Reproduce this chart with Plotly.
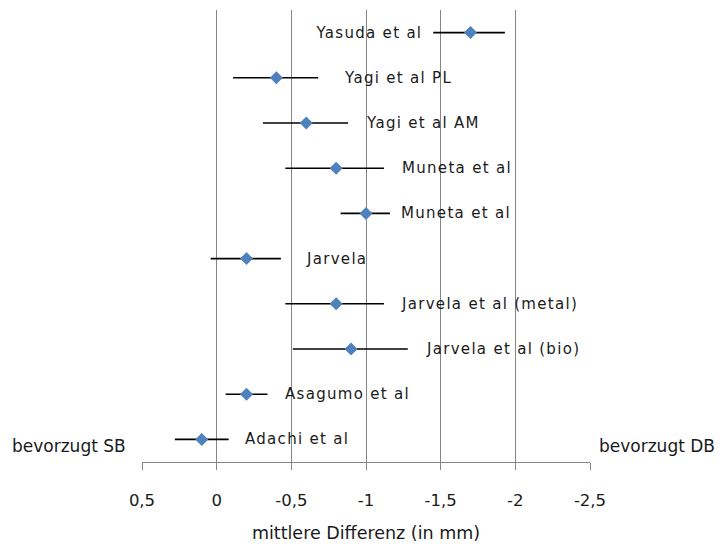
import json
import plotly.graph_objects as go

studies = ["Yasuda et al", "Yagi et al PL", "Yagi et al AM", "Muneta et al", "Muneta et al",
           "Jarvela", "Jarvela et al (metal)", "Jarvela et al (bio)", "Asagumo et al", "Adachi et al"]
mean_diff = [-1.7, -0.4, -0.6, -0.8, -1.0, -0.2, -0.8, -0.9, -0.2, 0.1]
ci_low = [-1.47, -0.12, -0.32, -0.48, -0.84, 0.03, -0.48, -0.52, -0.06, 0.28]
ci_high = [-1.95, -0.69, -0.89, -1.14, -1.17, -0.44, -1.14, -1.29, -0.34, -0.08]
row_pos = [9.5, 8.5, 7.5, 6.5, 5.5, 4.5, 3.5, 2.5, 1.5, 0.5]
tick_vals = [0.5, 0, -0.5, -1, -1.5, -2, -2.5]
tick_labels = ["0,5", "0", "-0,5", "-1", "-1,5", "-2", "-2,5"]

# label placement (pixel gaps from the bar end); first label sits left of its bar
label_gap = [-12, 22, 14, 13, 8, 22, 12, 15, 16, 14]

err_plus = [abs(h - m) for m, h in zip(mean_diff, ci_high)]
err_minus = [abs(m - l) for m, l in zip(mean_diff, ci_low)]

FONT = "DejaVu Sans"
TXT = "#1a1a1a"

fig = go.Figure()
fig.add_trace(go.Scatter(
    x=mean_diff, y=row_pos, mode="markers",
    marker=dict(symbol="diamond", size=10, color="#4F81BD"),
    error_x=dict(type="data", symmetric=False, array=err_plus,
                 arrayminus=err_minus, color="#000000",
                 thickness=1.6, width=0),
    showlegend=False, hoverinfo="skip",
))

for name, lo, hi, y, gap in zip(studies, ci_low, ci_high, row_pos, label_gap):
    if gap < 0:
        fig.add_annotation(x=lo, y=y, xref="x", yref="y", text=name, showarrow=False,
                           xanchor="right", align="right", xshift=gap, yshift=0,
                           font=dict(family=FONT, size=15, color=TXT))
    else:
        fig.add_annotation(x=hi, y=y, xref="x", yref="y", text=name, showarrow=False,
                           xanchor="left", align="left", xshift=gap, yshift=0,
                           font=dict(family=FONT, size=15, color=TXT))

fig.add_annotation(x=0, y=0.036, xref="paper", yref="paper", text="bevorzugt SB",
                   showarrow=False, xanchor="right", yanchor="middle", xshift=-14,
                   font=dict(family=FONT, size=17, color=TXT))
fig.add_annotation(x=1, y=0.036, xref="paper", yref="paper", text="bevorzugt DB",
                   showarrow=False, xanchor="left", yanchor="middle", xshift=7,
                   font=dict(family=FONT, size=17, color=TXT))

fig.update_layout(
    width=714, height=536,
    margin=dict(l=134, r=132, t=2, b=82),
    plot_bgcolor="white", paper_bgcolor="white",
    font=dict(family=FONT, size=16.5, color=TXT),
    xaxis=dict(
        range=[0.5, -2.5], tickvals=tick_vals, ticktext=tick_labels,
        showgrid=True, gridcolor="#868686", gridwidth=1,
        showline=True, linecolor="#868686", linewidth=1,
        ticks="outside", ticklen=7, tickcolor="#868686",
        ticklabelstandoff=16, zeroline=False, automargin=False,
        title=dict(text="mittlere Differenz (in mm)", standoff=17,
                   font=dict(family=FONT, size=17.5, color=TXT)),
        tickfont=dict(family=FONT, size=16.5, color=TXT),
    ),
    yaxis=dict(range=[0, 10], visible=False, showgrid=False, zeroline=False),
)

post = """
var names = %s;
document.querySelectorAll('text.annotation-text').forEach(function(t){
  if (names.indexOf(t.textContent) >= 0) { t.style.letterSpacing = '1.3px'; }
});
""" % json.dumps(studies)

fig.write_html("out.html", post_script=post)
